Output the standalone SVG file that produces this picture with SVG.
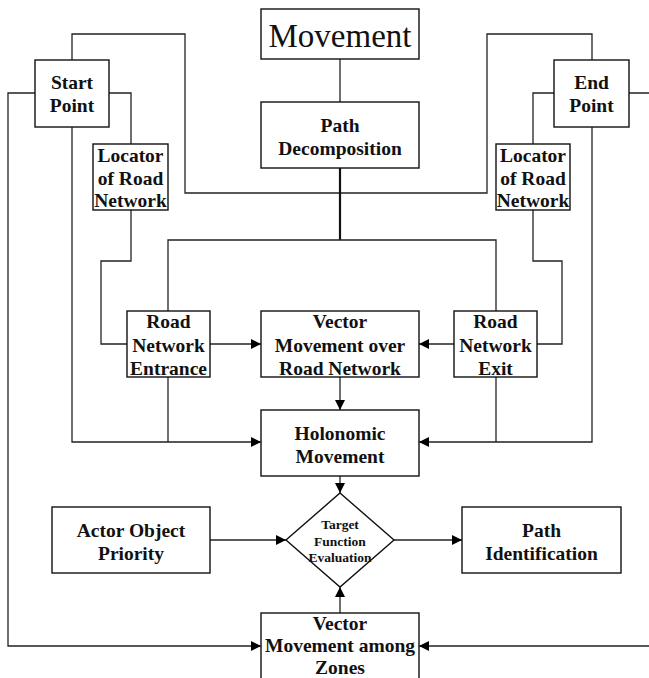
<svg xmlns="http://www.w3.org/2000/svg" width="649" height="678" viewBox="0 0 649 678">
<style>
.box{fill:#fff;stroke:#111;stroke-width:1.4}
.ln{fill:none;stroke:#222;stroke-width:1.3}
.thick{fill:none;stroke:#111;stroke-width:2.2}
.t{font-family:"Liberation Serif","Times New Roman",serif;font-weight:bold;font-size:19.5px;text-anchor:middle;fill:#111}
.ts{font-family:"Liberation Serif","Times New Roman",serif;font-weight:bold;font-size:13.5px;text-anchor:middle;fill:#111}
.big{font-family:"Liberation Serif","Times New Roman",serif;font-size:33px;text-anchor:middle;fill:#111}
</style>
<defs>
<marker id="ah" viewBox="0 0 10 10" refX="10" refY="5" markerWidth="11" markerHeight="10" markerUnits="userSpaceOnUse" orient="auto">
<path d="M0,0 L10,5 L0,10 z" fill="#000"/>
</marker>
</defs>
<rect width="649" height="678" fill="#fff"/>
<g id="connectors">
<path class="ln" d="M340,59 V102"/>
<path class="ln" d="M72,60 V34 H185 V193 H487 V34 H592 V60"/>
<path class="thick" d="M340,168 V240"/>
<path class="ln" d="M168,311 V240 H496 V311"/>
<path class="ln" d="M109,93 H131 V144"/>
<path class="ln" d="M131,210 V261 H101 V344 H127"/>
<path class="ln" d="M554,93 H533 V144"/>
<path class="ln" d="M533,210 V261 H562 V344 H537"/>
<path class="ln" d="M210,344 H261" marker-end="url(#ah)"/>
<path class="ln" d="M454,344 H419" marker-end="url(#ah)"/>
<path class="ln" d="M340,377 V410" marker-end="url(#ah)"/>
<path class="ln" d="M72,127 V442 H261" marker-end="url(#ah)"/>
<path class="ln" d="M168,377 V442"/>
<path class="ln" d="M592,127 V442 H419" marker-end="url(#ah)"/>
<path class="ln" d="M496,377 V442"/>
<path class="ln" d="M340,476 V493" marker-end="url(#ah)"/>
<path class="ln" d="M210,540 H286" marker-end="url(#ah)"/>
<path class="ln" d="M394,540 H462" marker-end="url(#ah)"/>
<path class="ln" d="M340,613 V587" marker-end="url(#ah)"/>
<path class="ln" d="M35,93 H8 V646 H261" marker-end="url(#ah)"/>
<path class="ln" d="M629,93 H655 V646 H419" marker-end="url(#ah)"/>
</g>
<g id="movement">
<rect class="box" x="261" y="9" width="158" height="50"/>
<text class="big" x="340" y="47">Movement</text>
</g>
<g id="start-point">
<rect class="box" x="35" y="60" width="74" height="67"/>
<text class="t" x="72" y="89">Start</text>
<text class="t" x="72" y="112">Point</text>
</g>
<g id="end-point">
<rect class="box" x="554" y="60" width="75" height="67"/>
<text class="t" x="591.5" y="89">End</text>
<text class="t" x="591.5" y="112">Point</text>
</g>
<g id="path-decomposition">
<rect class="box" x="261" y="102" width="158" height="66"/>
<text class="t" x="340" y="132">Path</text>
<text class="t" x="340" y="155">Decomposition</text>
</g>
<g id="locator-left">
<rect class="box" x="93" y="144" width="75" height="66"/>
<text class="t" x="130.5" y="162">Locator</text>
<text class="t" x="130.5" y="184.5">of Road</text>
<text class="t" x="130.5" y="207">Network</text>
</g>
<g id="locator-right">
<rect class="box" x="496" y="144" width="74" height="66"/>
<text class="t" x="533" y="162">Locator</text>
<text class="t" x="533" y="184.5">of Road</text>
<text class="t" x="533" y="207">Network</text>
</g>
<g id="road-network-entrance">
<rect class="box" x="127" y="311" width="83" height="66"/>
<text class="t" x="168.5" y="328">Road</text>
<text class="t" x="168.5" y="351.5">Network</text>
<text class="t" x="168.5" y="375">Entrance</text>
</g>
<g id="vector-over-road">
<rect class="box" x="261" y="311" width="158" height="66"/>
<text class="t" x="340" y="328">Vector</text>
<text class="t" x="340" y="351.5">Movement over</text>
<text class="t" x="340" y="375">Road Network</text>
</g>
<g id="road-network-exit">
<rect class="box" x="454" y="311" width="83" height="66"/>
<text class="t" x="495.5" y="328">Road</text>
<text class="t" x="495.5" y="351.5">Network</text>
<text class="t" x="495.5" y="375">Exit</text>
</g>
<g id="holonomic-movement">
<rect class="box" x="261" y="410" width="158" height="66"/>
<text class="t" x="340" y="440">Holonomic</text>
<text class="t" x="340" y="463">Movement</text>
</g>
<g id="actor-object-priority">
<rect class="box" x="52" y="507" width="158" height="66"/>
<text class="t" x="131" y="537">Actor Object</text>
<text class="t" x="131" y="560">Priority</text>
</g>
<g id="target-function-evaluation">
<path class="box" d="M340,493 L394,540 L340,587 L286,540 z"/>
<text class="ts" x="340" y="529">Target</text>
<text class="ts" x="340" y="546">Function</text>
<text class="ts" x="340" y="562">Evaluation</text>
</g>
<g id="path-identification">
<rect class="box" x="462" y="507" width="159" height="66"/>
<text class="t" x="541.5" y="537">Path</text>
<text class="t" x="541.5" y="560">Identification</text>
</g>
<g id="vector-among-zones">
<rect class="box" x="261" y="613" width="158" height="80"/>
<text class="t" x="340" y="629.5">Vector</text>
<text class="t" x="340" y="652">Movement among</text>
<text class="t" x="340" y="673.5">Zones</text>
</g>
</svg>
